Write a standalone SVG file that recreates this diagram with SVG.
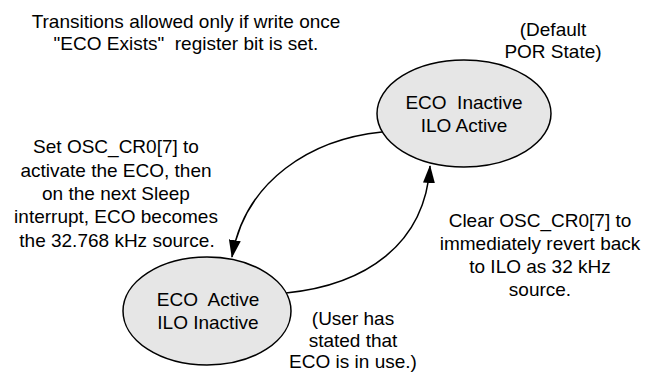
<svg xmlns="http://www.w3.org/2000/svg" width="665" height="373" viewBox="0 0 665 373">
<style>
text{font-family:"Liberation Sans",Arial,sans-serif;font-size:19px;fill:#000;text-anchor:middle}
.node{fill:#e6e6e6;stroke:#000;stroke-width:1.5}
.conn{fill:none;stroke:#000;stroke-width:1.5}
</style>
<defs>
<marker id="arr" markerWidth="18" markerHeight="12" refX="17" refY="6" orient="auto" markerUnits="userSpaceOnUse">
<path d="M0,0 L18,6 L0,12 Z" fill="#000"/>
</marker>
</defs>
<rect width="665" height="373" fill="#fff"/>
<g id="connectors">
<path class="conn" d="M382,132 C312,139 245,180 232,257" marker-end="url(#arr)"/>
<path class="conn" d="M286,293 C365,285 425,245 430,166" marker-end="url(#arr)"/>
</g>
<g id="state-inactive">
<ellipse class="node" cx="464" cy="113.5" rx="87" ry="53.5"/>
<text x="464" y="109" xml:space="preserve">ECO  Inactive</text>
<text x="464" y="132">ILO Active</text>
</g>
<g id="state-active">
<ellipse class="node" cx="207" cy="311" rx="84" ry="54"/>
<text x="208" y="306" xml:space="preserve">ECO  Active</text>
<text x="208" y="329">ILO Inactive</text>
</g>
<g id="labels">
<text x="186" y="28">Transitions allowed only if write once</text>
<text x="186" y="50" xml:space="preserve">"ECO Exists"  register bit is set.</text>
<text x="553" y="36">(Default</text>
<text x="553" y="58">POR State)</text>
<text x="116" y="153">Set OSC_CR0[7] to</text>
<text x="116" y="177">activate the ECO, then</text>
<text x="116" y="200">on the next Sleep</text>
<text x="116" y="223">interrupt, ECO becomes</text>
<text x="117" y="247">the 32.768 kHz source.</text>
<text x="540" y="227">Clear OSC_CR0[7] to</text>
<text x="540" y="250">immediately revert back</text>
<text x="540" y="273">to ILO as 32 kHz</text>
<text x="540" y="296">source.</text>
<text x="353" y="325">(User has</text>
<text x="353" y="347">stated that</text>
<text x="353" y="368">ECO is in use.)</text>
</g>
</svg>
